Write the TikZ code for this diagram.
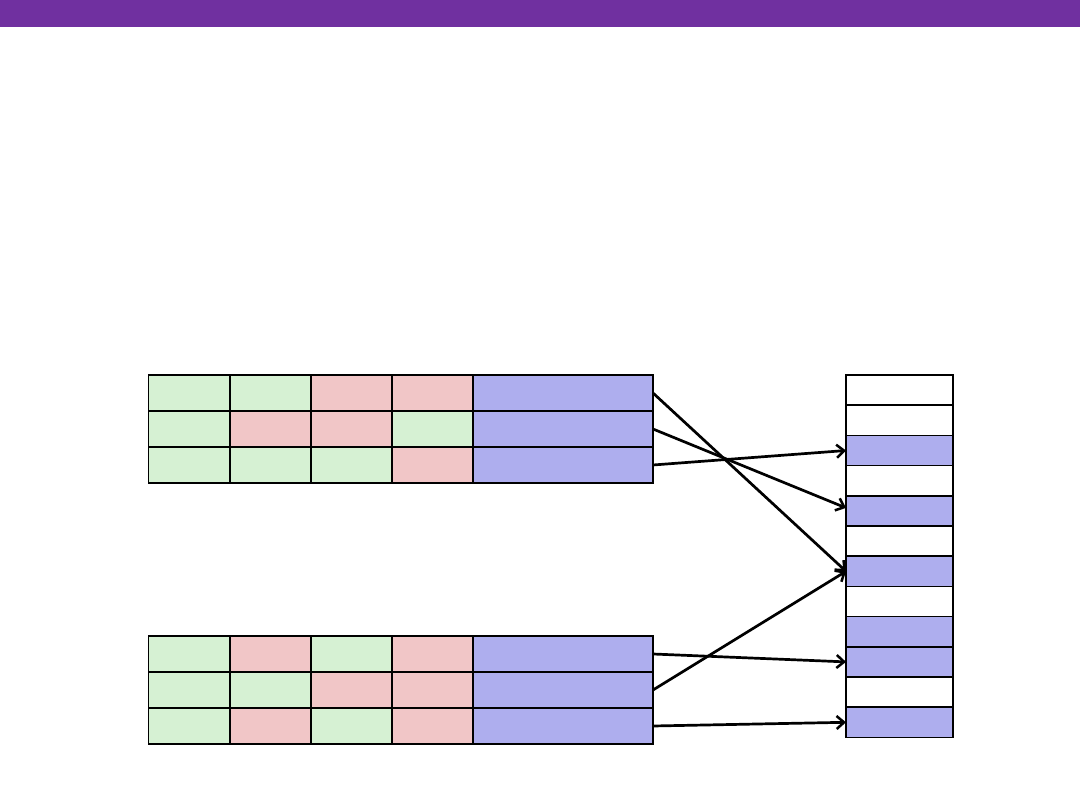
\documentclass[tikz,border=0pt]{standalone}
\usetikzlibrary{arrows.meta}
\definecolor{barc}{HTML}{7030A0}
\definecolor{gc}{HTML}{D6F1D3}
\definecolor{pc}{HTML}{F1C6C7}
\definecolor{bc}{HTML}{AEAEEE}
\begin{document}
\begin{tikzpicture}[x=1pt,y=-1pt,
  cellbox/.style={draw=black,line width=1.6pt,minimum height=36pt,inner sep=0pt,outer sep=0pt},
  memcell/.style={draw=black,line width=1.6pt,minimum width=107pt,minimum height=30.2pt,inner sep=0pt,outer sep=0pt},
  ptr/.style={line width=2.7pt,-{Straight Barb[length=7.5pt,width=13pt,line width=2.5pt]}}]
\useasboundingbox (0,0) rectangle (1080,810);
\fill[barc] (0,0) rectangle (1080,27);
% table rows
\def\rowT#1#2#3#4#5#6{%
  \node[cellbox,fill=#2,minimum width=81pt] (#1a) at (189,#6) {};
  \node[cellbox,fill=#3,minimum width=81pt] (#1b) at (270.5,#6) {};
  \node[cellbox,fill=#4,minimum width=81pt] (#1c) at (351.5,#6) {};
  \node[cellbox,fill=#5,minimum width=81pt] (#1d) at (432.5,#6) {};
  \node[cellbox,fill=bc,minimum width=180pt] (#1e) at (563,#6) {};}
\rowT{ta}{gc}{gc}{pc}{pc}{393}
\rowT{tb}{gc}{pc}{pc}{gc}{429}
\rowT{tc}{gc}{gc}{gc}{pc}{465}
\rowT{ba}{gc}{pc}{gc}{pc}{654}
\rowT{bb}{gc}{gc}{pc}{pc}{690}
\rowT{bc}{gc}{pc}{gc}{pc}{726}
% memory column
\foreach \i/\f in {1/white,2/white,3/bc,4/white,5/bc,6/white,7/bc,8/white,9/bc,10/bc,11/white,12/bc}{
  \node[memcell,fill=\f] (m\i) at (899.5,{375+15.1+(\i-1)*30.2}) {};
}
\draw[ptr] (tae.east) -- (m7.west);
\draw[ptr] (tbe.east) -- ([yshift=3pt]m5.west);
\draw[ptr] (tce.east) -- (m3.west);
\draw[ptr] (bae.east) -- (m10.west);
\draw[ptr] (bbe.east) -- (m7.west);
\draw[ptr] (bce.east) -- (m12.west);
\end{tikzpicture}
\end{document}
